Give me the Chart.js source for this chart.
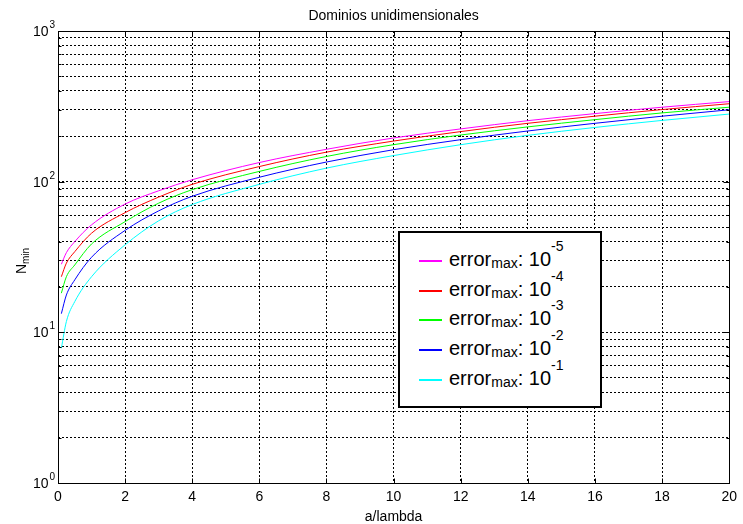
<!DOCTYPE html>
<html>
<head>
<meta charset="utf-8">
<script src="https://cdn.jsdelivr.net/npm/chart.js@4.4.1/dist/chart.umd.min.js"></script>
<style>
  html, body { margin: 0; padding: 0; background: #fff; }
  #wrap { position: relative; width: 743px; height: 524px; }
  #legendBox {
    position: absolute; left: 398px; top: 231px; width: 204px; height: 177px;
    box-sizing: border-box; border: 2px solid #000; background: #fff;
  }
  .row {
    position: absolute; left: 419px; height: 24px; line-height: 24px;
    font: 20px "Liberation Sans", Arial, sans-serif; color: #000; white-space: nowrap;
  }
  .row .swatch { position: absolute; left: 0; top: 12px; width: 23px; height: 2px; }
  .row .txt { position: absolute; left: 30px; top: 0; }
  .row .sub { font-size: 14px; position: relative; top: 2px; }
  .row .sup { font-size: 14px; position: relative; top: -15px; }
</style>
</head>
<body>
<div id="wrap">
  <canvas id="chart" width="743" height="524"></canvas>
  <div id="legendBox"></div>
</div>
<script>
// a/lambda samples
const aLambda = [0.1, 0.25, 0.5, 1, 2, 3, 4, 6, 8, 10, 12, 14, 16, 18, 20];

// N_min for each maximum error
const nErr5 = [28.3, 33.8, 40, 51.7, 71, 87, 103, 134, 164, 195, 224, 254, 283, 312, 340];
const nErr4 = [23.4, 28.8, 34.3, 45.5, 62.3, 79, 96, 126, 157, 186, 215, 244, 272, 301, 329];
const nErr3 = [18.2, 23.4, 28, 38.6, 54.3, 72, 88.5, 117, 147, 176, 204, 231, 258, 286, 312];
const nErr2 = [13.3, 17.7, 22.3, 31.5, 47.5, 64, 80, 107, 135, 163, 190, 217, 244, 272, 300];
const nErr1 = [7.84, 11.8, 16, 23.4, 38.1, 55, 70.5, 96, 123, 149, 176, 203, 229, 255, 281];

const errExps = ['-5', '-4', '-3', '-2', '-1'];
const colors = ['#ff00ff', '#ff0000', '#00ff00', '#0000ff', '#00ffff'];
const series = [nErr5, nErr4, nErr3, nErr2, nErr1];

const xTicks = [0, 2, 4, 6, 8, 10, 12, 14, 16, 18, 20];
const decades = [0, 1, 2, 3];

const FONT = '"Liberation Sans", Arial, sans-serif';

// log ticks 1..9 per decade, up to 1000
const yTickValues = [];
decades.slice(0, 3).forEach(d => {
  for (let m = 1; m < 10; m++) yTickValues.push(m * Math.pow(10, d));
});
yTickValues.push(1000);

const matlabAxes = {
  id: 'matlabAxes',
  afterDraw(chart) {
    const { ctx, chartArea: a, scales: { x, y } } = chart;
    const L = Math.round(a.left) + 0.5, R = Math.round(a.right) + 0.5;
    const T = Math.round(a.top) + 0.5, B = Math.round(a.bottom) + 0.5;
    ctx.save();
    ctx.strokeStyle = '#000';
    ctx.lineWidth = 1;
    ctx.setLineDash([]);
    ctx.strokeRect(L, T, R - L, B - T);

    // tick marks inside the box
    ctx.beginPath();
    xTicks.forEach(v => {
      const px = Math.round(x.getPixelForValue(v)) + 0.5;
      ctx.moveTo(px, B); ctx.lineTo(px, B - 5);
      ctx.moveTo(px, T); ctx.lineTo(px, T + 5);
    });
    yTickValues.forEach(v => {
      const py = Math.round(y.getPixelForValue(v)) + 0.5;
      const len = Number.isInteger(Math.log10(v)) ? 6 : 3;
      ctx.moveTo(L, py); ctx.lineTo(L + len, py);
      ctx.moveTo(R, py); ctx.lineTo(R - len, py);
    });
    ctx.stroke();

    ctx.fillStyle = '#000';
    // y tick labels 10^k
    decades.forEach(k => {
      const py = y.getPixelForValue(Math.pow(10, k));
      ctx.font = '14px ' + FONT;
      ctx.textAlign = 'right';
      ctx.textBaseline = 'alphabetic';
      ctx.fillText('10', L - 10, py + 5);
      ctx.font = '10px ' + FONT;
      ctx.textAlign = 'left';
      ctx.fillText(String(k), L - 9, py - 3);
    });

    // title and x label
    const cx = (a.left + a.right) / 2;
    ctx.textAlign = 'center';
    ctx.textBaseline = 'middle';
    ctx.font = '14px ' + FONT;
    ctx.fillText('Dominios unidimensionales', cx, 16);
    ctx.fillText('a/lambda', cx, 517);

    // y label N_min
    ctx.save();
    ctx.translate(26, (a.top + a.bottom) / 2 + 4);
    ctx.rotate(-Math.PI / 2);
    ctx.textBaseline = 'alphabetic';
    ctx.textAlign = 'left';
    ctx.font = '14px ' + FONT;
    const wN = ctx.measureText('N').width;
    ctx.font = '10px ' + FONT;
    const wSub = ctx.measureText('min').width;
    const start = -(wN + wSub) / 2;
    ctx.font = '14px ' + FONT;
    ctx.fillText('N', start, 0);
    ctx.font = '10px ' + FONT;
    ctx.fillText('min', start + wN, 3);
    ctx.restore();

    ctx.restore();
  }
};

new Chart(document.getElementById('chart').getContext('2d'), {
  type: 'line',
  data: {
    labels: aLambda,
    datasets: series.map((vals, i) => ({
      label: 'error_max: 10^' + errExps[i],
      data: vals.map((v, j) => ({ x: aLambda[j], y: v })),
      borderColor: colors[i],
      borderWidth: 1,
      pointRadius: 0,
      fill: false,
      cubicInterpolationMode: 'monotone'
    }))
  },
  options: {
    responsive: false,
    animation: false,
    devicePixelRatio: 1,
    layout: { padding: { top: 31, right: 5, left: 0, bottom: 0 } },
    plugins: { legend: { display: false }, tooltip: { enabled: false }, title: { display: false } },
    scales: {
      x: {
        type: 'linear', min: 0, max: 20,
        afterFit: s => { s.height = 41; },
        afterBuildTicks: s => { s.ticks = xTicks.map(v => ({ value: v })); },
        grid: { color: '#000', lineWidth: 1, drawTicks: false },
        border: { display: false, dash: [2, 2] },
        ticks: { color: '#000', font: { size: 14, family: FONT }, padding: 6, maxRotation: 0 }
      },
      y: {
        type: 'logarithmic', min: 1, max: 1000,
        afterFit: s => { s.width = 58; },
        afterBuildTicks: s => { s.ticks = yTickValues.map(v => ({ value: v })); },
        grid: { color: '#000', lineWidth: 1, drawTicks: false },
        border: { display: false, dash: [2, 2] },
        ticks: { display: false }
      }
    }
  },
  plugins: [matlabAxes]
});

// legend rows
const wrap = document.getElementById('wrap');
errExps.forEach((e, i) => {
  const lineY = 261 + i * 29.7;
  const row = document.createElement('div');
  row.className = 'row';
  row.style.top = Math.round(lineY - 13) + 'px';
  row.innerHTML = '<span class="swatch" style="background:' + colors[i] + '"></span>' +
    '<span class="txt">error<span class="sub">max</span>: 10<span class="sup">' + e + '</span></span>';
  wrap.appendChild(row);
});
</script>
</body>
</html>
